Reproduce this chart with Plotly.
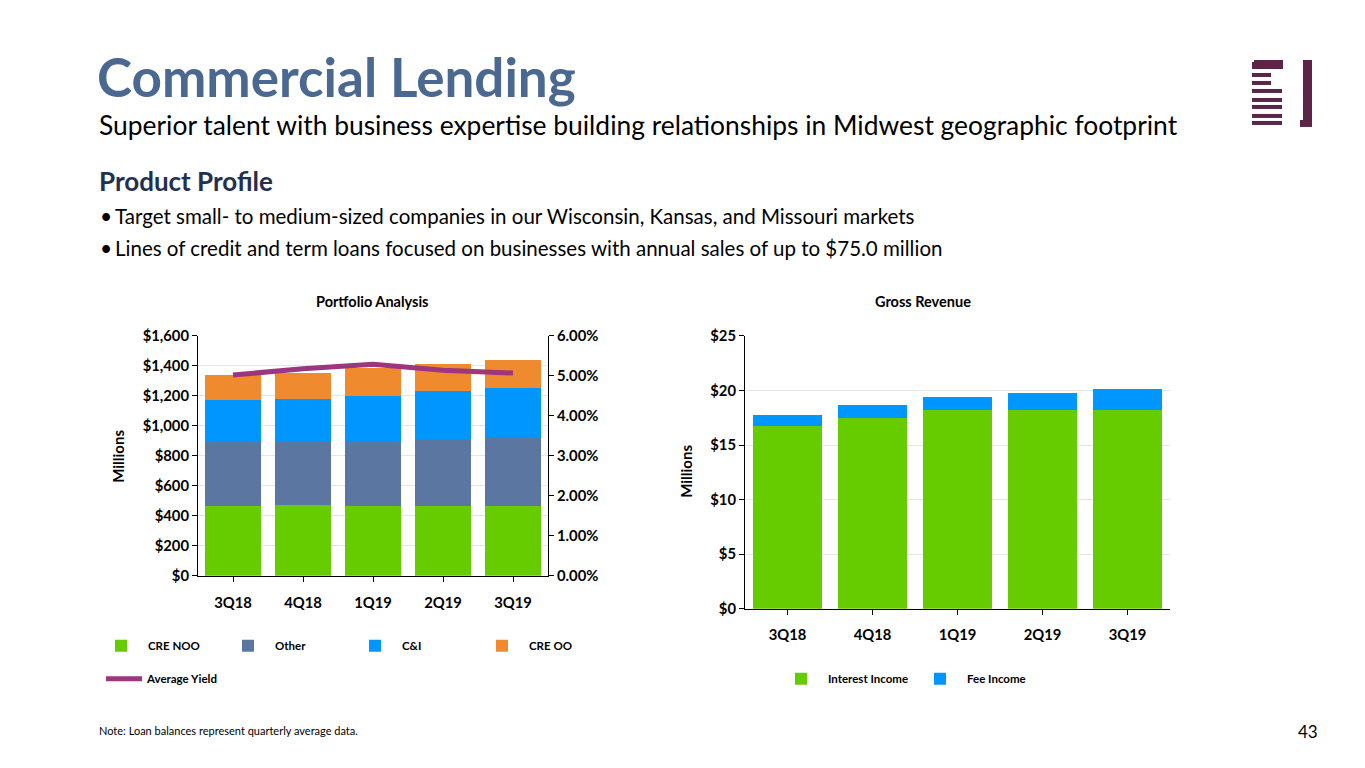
import plotly.graph_objects as go

W, H = 1365, 768
FONT = "Lato"

# ---------------- data ----------------
quarters = ["3Q18", "4Q18", "1Q19", "2Q19", "3Q19"]
cre_noo = [467, 472, 467, 465, 467]
other = [422, 417, 426, 446, 453]
c_and_i = [280, 291, 307, 320, 331]
cre_oo = [171, 175, 187, 182, 187]
avg_yield = [5.02, 5.18, 5.29, 5.14, 5.07]

interest_income = [16.76, 17.43, 18.22, 18.20, 18.22]
fee_income = [0.98, 1.19, 1.19, 1.58, 1.93]

GREEN = "#66cc00"
SLATE = "#5b76a0"
BLUE = "#0096ff"
ORANGE = "#f08a2e"
PURPLE = "#9b367f"

# the page is captured with a small vertical offset/scale; compensate
VOFF, VSCALE = 8.0, 0.977


def px(x):
    return x / W


def py(y):
    return 1 - ((y - VOFF) / VSCALE) / H


fig = go.Figure()

# left chart bars
for name, vals, col in [("CRE NOO", cre_noo, GREEN), ("Other", other, SLATE),
                        ("C&I", c_and_i, BLUE), ("CRE OO", cre_oo, ORANGE)]:
    fig.add_trace(go.Bar(x=quarters, y=vals, name=name, marker_color=col,
                         marker_line_width=0, xaxis="x", yaxis="y", legend="legend"))
fig.add_trace(go.Scatter(x=quarters, y=avg_yield, name="Average Yield", mode="lines",
                         line=dict(color=PURPLE, width=5), xaxis="x", yaxis="y2",
                         legend="legend2"))

# right chart bars
fig.add_trace(go.Bar(x=quarters, y=interest_income, name="Interest Income", marker_color=GREEN,
                     marker_line_width=0, xaxis="x3", yaxis="y3", legend="legend3"))
fig.add_trace(go.Bar(x=quarters, y=fee_income, name="Fee Income", marker_color=BLUE,
                     marker_line_width=0, xaxis="x3", yaxis="y3", legend="legend3"))

tickfont = dict(family=FONT, size=14.8, color="#000000", weight="bold")
legfont = dict(family=FONT, size=11.5, color="#000000", weight="bold")

fig.update_layout(
    width=W, height=H, margin=dict(l=0, r=0, t=0, b=0),
    paper_bgcolor="white", plot_bgcolor="white",
    barmode="stack", bargap=0.19,
    font=dict(family=FONT, color="#000000"),
    xaxis=dict(domain=[px(198), px(548)], anchor="y", showline=True, linecolor="#000000",
               linewidth=1, ticks="outside", ticklen=5, tickcolor="#000000",
               tickfont=tickfont, ticklabelstandoff=8, showgrid=False),
    yaxis=dict(domain=[py(574), py(334)], anchor="x", range=[0, 1600], dtick=200,
               tickprefix="$", tickformat=",", showline=True, linecolor="#000000",
               ticks="outside", ticklen=5, tickcolor="#000000",
               showgrid=True, gridcolor="#e6e6e6", tickfont=tickfont, zeroline=False),
    yaxis2=dict(overlaying="y", side="right", anchor="x", range=[0, 6], dtick=1,
                tickformat=".2f", ticksuffix="%", showline=True, linecolor="#000000",
                ticks="outside", ticklen=5, tickcolor="#000000", showgrid=False,
                tickfont=tickfont, zeroline=False),
    xaxis3=dict(domain=[px(745), px(1170)], anchor="y3", showline=True, linecolor="#000000",
                ticks="outside", ticklen=5, tickcolor="#000000", tickfont=tickfont,
                ticklabelstandoff=8, showgrid=False),
    yaxis3=dict(domain=[py(607), py(334)], anchor="x3", range=[0, 25], dtick=5,
                tickprefix="$", showline=True, linecolor="#000000", ticks="outside",
                ticklen=5, tickcolor="#000000", showgrid=True, gridcolor="#e6e6e6",
                tickfont=tickfont, zeroline=False),
    legend=dict(orientation="h", x=px(94), y=py(644), xanchor="left", yanchor="middle",
                entrywidth=68, itemwidth=44, font=legfont, traceorder="normal",
                bgcolor="rgba(0,0,0,0)"),
    legend2=dict(orientation="h", x=px(101), y=py(677), xanchor="left", yanchor="middle",
                 itemwidth=36, font=legfont, bgcolor="rgba(0,0,0,0)"),
    legend3=dict(orientation="h", x=px(774), y=py(677), xanchor="left", yanchor="middle",
                 entrywidth=80, itemwidth=44, font=legfont, traceorder="normal",
                 bgcolor="rgba(0,0,0,0)"),
)

ann = []
ann.append(dict(text="Commercial Lending", x=px(95), y=py(75), xanchor="left", yanchor="middle",
                font=dict(family=FONT, size=53, color="#4a6890", weight="bold")))
ann.append(dict(text="Superior talent with business expertise building relationships in Midwest geographic footprint",
                x=px(97), y=py(123), xanchor="left", yanchor="middle",
                font=dict(family=FONT, size=26.4, color="#000000")))
ann.append(dict(text="Product Profile", x=px(97), y=py(179), xanchor="left", yanchor="middle",
                font=dict(family=FONT, size=26, color="#1f3050", weight="bold")))
for yy, t in [(214, "Target small- to medium-sized companies in our Wisconsin, Kansas, and Missouri markets"),
              (246, "Lines of credit and term loans focused on businesses with annual sales of up to $75.0 million")]:
    ann.append(dict(text="•", x=px(98), y=py(yy), xanchor="left", yanchor="middle",
                    font=dict(family=FONT, size=21, color="#000000")))
    ann.append(dict(text=t, x=px(113), y=py(yy), xanchor="left", yanchor="middle",
                    font=dict(family=FONT, size=20.5, color="#000000")))
ann.append(dict(text="Portfolio Analysis", x=px(372), y=py(300), xanchor="center", yanchor="middle",
                font=dict(family=FONT, size=14.5, color="#000000", weight="bold")))
ann.append(dict(text="Gross Revenue", x=px(923), y=py(300), xanchor="center", yanchor="middle",
                font=dict(family=FONT, size=14.5, color="#000000", weight="bold")))
ann.append(dict(text="Millions", x=px(118), y=py(455), textangle=-90, xanchor="center", yanchor="middle",
                font=dict(family=FONT, size=15, color="#000000", weight="bold")))
ann.append(dict(text="Millions", x=px(686), y=py(470), textangle=-90, xanchor="center", yanchor="middle",
                font=dict(family=FONT, size=15, color="#000000", weight="bold")))
ann.append(dict(text="Note: Loan balances represent quarterly average data.", x=px(97), y=py(729),
                xanchor="left", yanchor="middle", font=dict(family=FONT, size=11, color="#000000")))
ann.append(dict(text="43", x=px(1320), y=py(730), xanchor="right", yanchor="middle",
                font=dict(family=FONT, size=17, color="#000000")))
for a in ann:
    a.update(xref="paper", yref="paper", showarrow=False)
fig.update_layout(annotations=ann)

# logo
LOGO = "#5c2447"
shapes = []
def rect(x0, y0, x1, y1):
    shapes.append(dict(type="rect", xref="paper", yref="paper", x0=px(x0), x1=px(x1),
                       y0=py(y1), y1=py(y0), fillcolor=LOGO, line_width=0))
rect(1254, 58, 1283, 67)
rect(1252, 60, 1260, 67)
rect(1252, 71, 1271, 75)
rect(1252, 79, 1271, 83)
for y0 in [87, 96, 103, 112, 119]:
    rect(1252, y0, 1282, y0 + 4)
rect(1303, 58, 1312, 122)
rect(1300, 118, 1312, 125)
fig.update_layout(shapes=shapes)

fig.write_html("out.html")
